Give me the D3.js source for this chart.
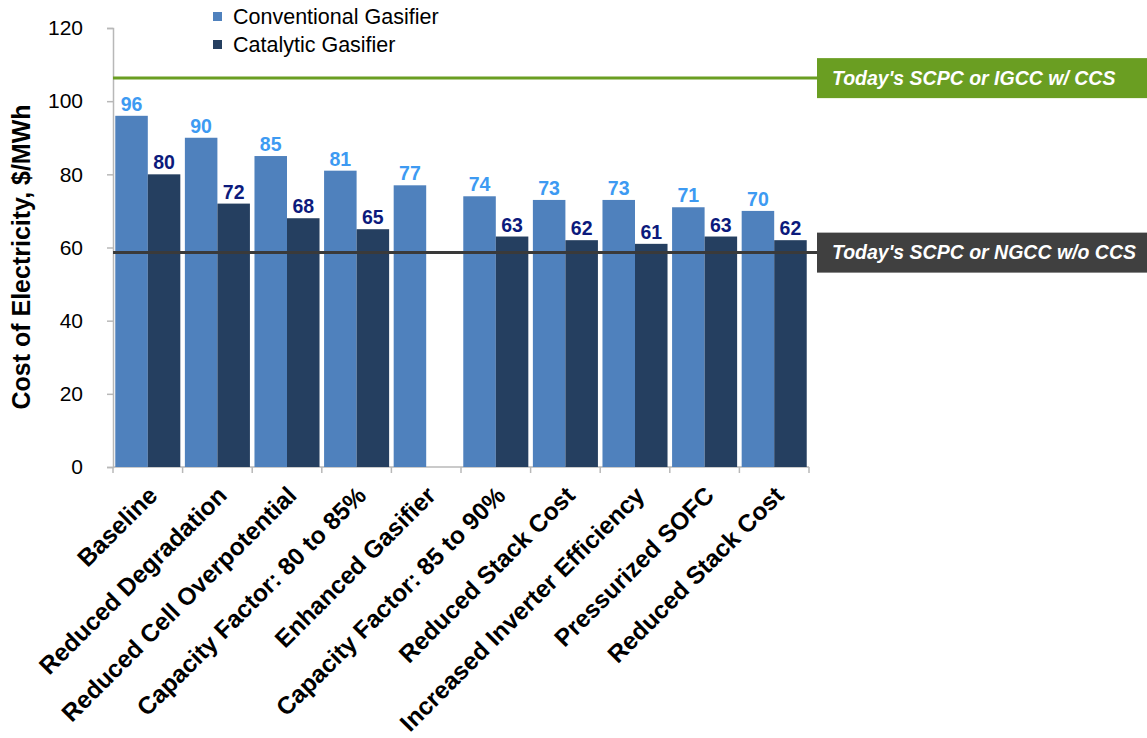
<!DOCTYPE html>
<html>
<head>
<meta charset="utf-8">
<script src="https://cdn.jsdelivr.net/npm/d3@7"></script>
<style>
  html, body { margin: 0; padding: 0; background: #fff; }
  svg { display: block; font-family: "Liberation Sans", Arial, sans-serif; }
</style>
</head>
<body>
<svg id="chart" width="1147" height="738"></svg>
<script>
// Cost of electricity by technology improvement step
const categories = [
  "Baseline",
  "Reduced Degradation",
  "Reduced Cell Overpotential",
  "Capacity Factor: 80 to 85%",
  "Enhanced Gasifier",
  "Capacity Factor: 85 to 90%",
  "Reduced Stack Cost",
  "Increased Inverter Efficiency",
  "Pressurized SOFC",
  "Reduced Stack Cost"
];
const seriesNames = ["Conventional Gasifier", "Catalytic Gasifier"];
const conventional = [96, 90, 85, 81, 77, 74, 73, 73, 71, 70];
const catalytic = [80, 72, 68, 65, null, 63, 62, 61, 63, 62];
const yTicks = [0, 20, 40, 60, 80, 100, 120];
const refLines = [
  { label: "Today's SCPC or IGCC w/ CCS", value: 106.3, color: "#6a9e22", box: "#6a9e22" },
  { label: "Today's SCPC or NGCC w/o CCS", value: 58.6, color: "#3a3a3a", box: "#404040" }
];

const svg = d3.select("#chart");
const margin = { left: 113, right: 338, top: 28, bottom: 271 };
const W = 1147, H = 738;
const plotRight = W - margin.right;
const plotBottom = H - margin.bottom;

const x0 = d3.scaleBand()
  .domain(d3.range(categories.length))
  .range([margin.left, plotRight])
  .padding(0);
const x1 = d3.scaleBand()
  .domain([0, 1])
  .range([0, x0.bandwidth()])
  .paddingInner(0)
  .paddingOuter(0.07);
const y = d3.scaleLinear().domain([0, 120]).range([plotBottom, margin.top]);

const colors = ["#4f81bd", "#253f60"];
const labelColors = ["#3d9af2", "#0c1a7c"];

// Y axis
const yAxis = d3.axisLeft(y).tickValues(yTicks).tickSize(6).tickPadding(24);
const gy = svg.append("g").attr("transform", `translate(${margin.left},0)`).call(yAxis);
gy.select(".domain").attr("stroke", "#b8b8b8").attr("stroke-width", 1.5);
gy.selectAll(".tick line").attr("stroke", "#b8b8b8").attr("stroke-width", 1.5);
gy.selectAll(".tick text")
  .attr("font-size", 21)
  .attr("fill", "#000")
  .attr("font-family", "'Liberation Sans Narrow', 'Arial Narrow', 'Liberation Sans', sans-serif");

// X axis line and ticks at band boundaries
const gx = svg.append("g");
gx.append("line")
  .attr("x1", margin.left).attr("x2", plotRight)
  .attr("y1", plotBottom).attr("y2", plotBottom)
  .attr("stroke", "#b8b8b8").attr("stroke-width", 1.5);
const boundaries = d3.range(categories.length + 1).map(i => i < categories.length ? x0(i) : x0(i - 1) + x0.bandwidth());
gx.selectAll(".xt").data(boundaries).join("line")
  .attr("x1", d => d).attr("x2", d => d)
  .attr("y1", plotBottom).attr("y2", plotBottom + 6)
  .attr("stroke", "#b8b8b8").attr("stroke-width", 1.5);

// Bars
const rows = categories.map((c, i) => ({ i, vals: [conventional[i], catalytic[i]] }));
const groups = svg.append("g").selectAll("g").data(rows).join("g")
  .attr("transform", d => `translate(${x0(d.i)},0)`);
groups.selectAll("rect")
  .data(d => d.vals.map((v, s) => ({ v, s })).filter(e => e.v != null))
  .join("rect")
  .attr("x", e => x1(e.s))
  .attr("width", x1.bandwidth())
  .attr("y", e => y(e.v))
  .attr("height", e => y(0) - y(e.v))
  .attr("fill", e => colors[e.s]);

// Reference lines with labelled boxes
refLines.forEach(r => {
  const yy = y(r.value);
  svg.append("line")
    .attr("x1", margin.left).attr("x2", 818)
    .attr("y1", yy).attr("y2", yy)
    .attr("stroke", r.color).attr("stroke-width", 3);
  svg.append("rect")
    .attr("x", 817).attr("y", yy - 20)
    .attr("width", W - 817).attr("height", 40)
    .attr("fill", r.box);
  svg.append("text")
    .attr("x", 832).attr("y", yy + 6.5)
    .attr("fill", "#fff")
    .attr("font-size", 19.5)
    .attr("font-weight", "bold")
    .attr("font-style", "italic")
    .text(r.label);
});

// Value labels
groups.selectAll("text.val")
  .data(d => d.vals.map((v, s) => ({ v, s })).filter(e => e.v != null))
  .join("text")
  .attr("class", "val")
  .attr("x", e => x1(e.s) + x1.bandwidth() / 2)
  .attr("y", e => y(e.v) - 5)
  .attr("text-anchor", "middle")
  .attr("font-size", 19.5)
  .attr("font-weight", "bold")
  .attr("fill", e => labelColors[e.s])
  .text(e => e.v);

// Category labels
svg.append("g").selectAll("text").data(categories).join("text")
  .attr("transform", (d, i) => `translate(${x0(i) + x0.bandwidth() / 2 + 11},${plotBottom + 30}) rotate(-45)`)
  .attr("text-anchor", "end")
  .attr("font-size", 24.5)
  .attr("font-weight", "bold")
  .attr("fill", "#000")
  .text(d => d);

// Y axis title
svg.append("text")
  .attr("transform", `translate(30,257) rotate(-90)`)
  .attr("text-anchor", "middle")
  .attr("font-size", 25)
  .attr("font-weight", "bold")
  .text("Cost of Electricity, $/MWh");

// Legend
const legend = svg.append("g").attr("transform", "translate(213,0)");
seriesNames.forEach((name, s) => {
  const g = legend.append("g").attr("transform", `translate(0,${s * 28})`);
  g.append("rect").attr("x", 0).attr("y", 12).attr("width", 9).attr("height", 9).attr("fill", colors[s]);
  g.append("text").attr("x", 20).attr("y", 24).attr("font-size", 21.5).attr("fill", "#000").text(name);
});
</script>
</body>
</html>
